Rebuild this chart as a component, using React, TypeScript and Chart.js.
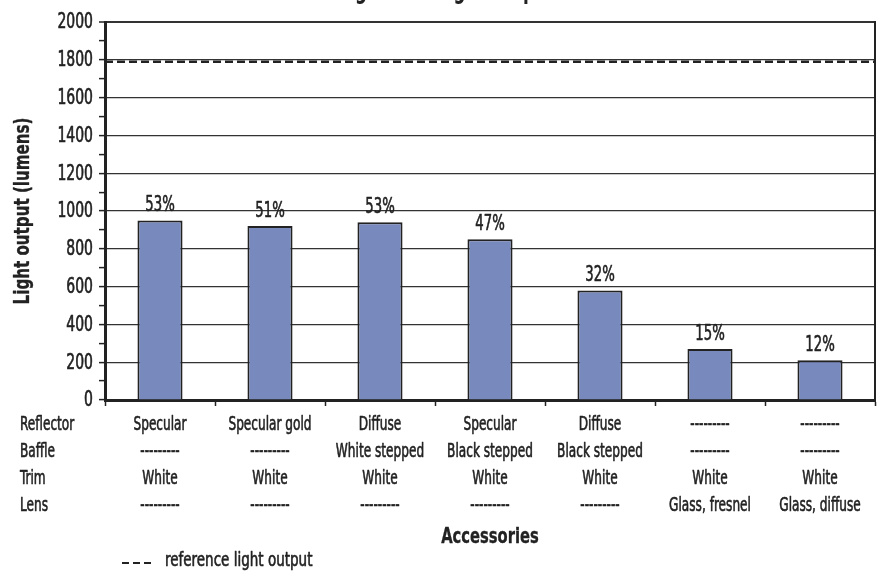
import { useEffect, useRef } from 'react';
import { Chart, registerables } from 'chart.js';

Chart.register(...registerables);

// Accessory configurations per bar
const REFLECTOR = ['Specular', 'Specular gold', 'Diffuse', 'Specular', 'Diffuse', '---------', '---------'];
const BAFFLE = ['---------', '---------', 'White stepped', 'Black stepped', 'Black stepped', '---------', '---------'];
const TRIM = ['White', 'White', 'White', 'White', 'White', 'White', 'White'];
const LENS = ['---------', '---------', '---------', '---------', '---------', 'Glass, fresnel', 'Glass, diffuse'];
const ROW_TITLES = ['Reflector', 'Baffle', 'Trim', 'Lens'];

// Measured light output (lumens) and share of the reference output
const LUMENS = [950, 920, 940, 850, 580, 270, 210];
const PERCENT_LABELS = ['53%', '51%', '53%', '47%', '32%', '15%', '12%'];
const REFERENCE_LUMENS = 1790;

const Y_MIN = 0;
const Y_MAX = 2000;
const Y_MINOR_STEP = 100;
const Y_LABEL_STEP = 200;

const TITLE = 'Ceiling fixture light output with accessories';
const Y_TITLE = 'Light output (lumens)';
const X_TITLE = 'Accessories';
const LEGEND_TEXT = 'reference light output';

const FONT = "'DejaVu Sans Condensed', 'DejaVu Sans', sans-serif";
const INK = '#222222';
const BAR_FILL = '#7889bd';
const TICK_LEN = 6;
const X_LABEL_PAD = 5;
const ROW_HEIGHT = 27.3;
const DASH = [8, 4];

// Draw text squeezed horizontally to get a narrow, tall letterform;
// a thin outline gives regular-weight text a medium look.
function narrowText(
  ctx: CanvasRenderingContext2D,
  text: string,
  x: number,
  y: number,
  font: string,
  squeeze: number,
  align: CanvasTextAlign,
  baseline: CanvasTextBaseline,
  rotate = 0,
  weight = 0.6
) {
  ctx.save();
  ctx.translate(x, y);
  if (rotate) ctx.rotate(rotate);
  ctx.scale(squeeze, 1);
  ctx.font = font;
  ctx.textAlign = align;
  ctx.textBaseline = baseline;
  ctx.fillText(text, 0, 0);
  if (weight > 0) {
    ctx.lineWidth = weight;
    ctx.lineJoin = 'round';
    ctx.strokeText(text, 0, 0);
  }
  ctx.restore();
}

const overlayPlugin = {
  id: 'fixtureOverlay',
  afterDatasetsDraw(chart: any) {
    const { ctx, chartArea, scales } = chart;
    const yScale = scales.y;
    const xScale = scales.x;
    ctx.save();
    ctx.fillStyle = INK;
    ctx.strokeStyle = INK;

    // right frame edge
    ctx.lineWidth = 2;
    ctx.beginPath();
    ctx.moveTo(chartArea.right, chartArea.top - 1);
    ctx.lineTo(chartArea.right, chartArea.bottom);
    ctx.stroke();

    // reference output line
    const yRef = yScale.getPixelForValue(REFERENCE_LUMENS);
    ctx.setLineDash(DASH);
    ctx.lineWidth = 2.5;
    ctx.beginPath();
    ctx.moveTo(chartArea.left, yRef);
    ctx.lineTo(chartArea.right, yRef);
    ctx.stroke();
    ctx.setLineDash([]);

    // y tick labels
    yScale.ticks.forEach((t: any) => {
      if (t.value % Y_LABEL_STEP !== 0) return;
      narrowText(ctx, String(t.value), chartArea.left - TICK_LEN - 6, yScale.getPixelForValue(t.value) + 1,
        `21px ${FONT}`, 0.74, 'right', 'middle');
    });

    // percentage labels above bars
    const meta = chart.getDatasetMeta(0);
    meta.data.forEach((bar: any, i: number) => {
      narrowText(ctx, PERCENT_LABELS[i], bar.x, bar.y - 9, `21px ${FONT}`, 0.7, 'center', 'alphabetic');
    });

    // accessory table: row titles and one column per bar
    const rowY = (j: number) => xScale.top + TICK_LEN + X_LABEL_PAD + ROW_HEIGHT * (j + 0.5);
    ROW_TITLES.forEach((t, j) => {
      narrowText(ctx, t, 20, rowY(j), `19px ${FONT}`, 0.71, 'left', 'middle');
    });
    const columns = [REFLECTOR, BAFFLE, TRIM, LENS];
    LUMENS.forEach((_, i) => {
      const x = xScale.getPixelForTick(i);
      columns.forEach((col, j) => {
        narrowText(ctx, col[i], x, rowY(j), `19px ${FONT}`, 0.71, 'center', 'middle');
      });
    });

    // axis titles
    narrowText(ctx, X_TITLE, (chartArea.left + chartArea.right) / 2, 538,
      `bold 21px ${FONT}`, 0.78, 'center', 'middle', 0, 0.3);
    narrowText(ctx, Y_TITLE, 24, (chartArea.top + chartArea.bottom) / 2,
      `bold 21px ${FONT}`, 0.8, 'center', 'middle', -Math.PI / 2, 0.3);

    // chart title (top edge of the canvas)
    narrowText(ctx, TITLE, 510, -2.5, `bold 26px ${FONT}`, 0.72, 'center', 'alphabetic', 0, 0);

    // legend
    const ly = 563;
    ctx.lineWidth = 2;
    ctx.setLineDash([7, 4]);
    ctx.beginPath();
    ctx.moveTo(122, ly);
    ctx.lineTo(151, ly);
    ctx.stroke();
    ctx.setLineDash([]);
    narrowText(ctx, LEGEND_TEXT, 165, 561, `19px ${FONT}`, 0.79, 'left', 'middle');

    ctx.restore();
  },
};

export default function App() {
  const canvasRef = useRef<HTMLCanvasElement>(null);

  useEffect(() => {
    const canvas = canvasRef.current;
    if (!canvas) return;
    const labels = REFLECTOR.map((r, i) => [r, BAFFLE[i], TRIM[i], LENS[i]]);

    const chart = new Chart(canvas, {
      type: 'bar',
      data: {
        labels,
        datasets: [
          {
            data: LUMENS,
            backgroundColor: BAR_FILL,
            borderColor: INK,
            borderWidth: 2,
            barPercentage: 0.41,
            categoryPercentage: 1,
          },
        ],
      },
      options: {
        responsive: false,
        animation: false,
        devicePixelRatio: 1,
        layout: { padding: { top: 22, right: 6, bottom: 26, left: 0 } },
        plugins: {
          legend: { display: false },
          tooltip: { enabled: false },
          title: { display: false },
        },
        scales: {
          x: {
            afterFit(scale: any) {
              scale.height = 150;
            },
            grid: {
              offset: true,
              drawOnChartArea: false,
              drawTicks: true,
              tickLength: TICK_LEN,
              tickColor: INK,
              tickWidth: 1.5,
            },
            border: { display: true, color: INK, width: 3 },
            ticks: { display: false, autoSkip: false },
          },
          y: {
            min: Y_MIN,
            max: Y_MAX,
            afterFit(scale: any) {
              scale.width = 105;
            },
            grid: {
              color: (ctx: any) =>
                ctx.tick && ctx.tick.value % Y_LABEL_STEP === 0 ? '#333333' : 'rgba(0,0,0,0)',
              lineWidth: (ctx: any) => (ctx.tick && ctx.tick.value === Y_MAX ? 2 : 1.2),
              tickColor: INK,
              tickLength: TICK_LEN,
              tickWidth: 1.5,
            },
            border: { display: true, color: INK, width: 3 },
            ticks: {
              stepSize: Y_MINOR_STEP,
              autoSkip: false,
              display: false,
            },
          },
        },
      } as any,
      plugins: [overlayPlugin],
    });

    return () => chart.destroy();
  }, []);

  return (
    <div style={{ position: 'fixed', left: 0, top: 0, width: 881, height: 576, background: '#ffffff' }}>
      <canvas ref={canvasRef} width={881} height={576} style={{ display: 'block', width: 881, height: 576 }} />
    </div>
  );
}
